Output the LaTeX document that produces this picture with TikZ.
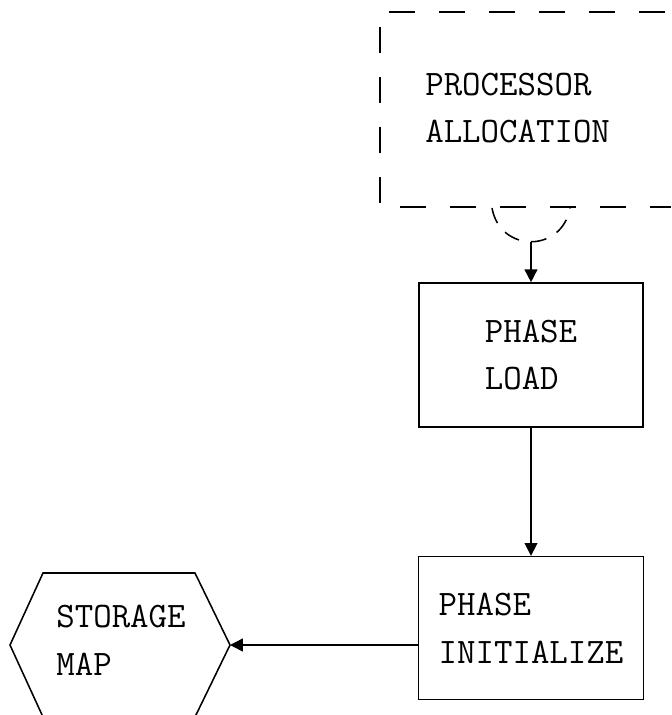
\documentclass[tikz,border=0pt]{standalone}
\usetikzlibrary{arrows.meta, positioning}

\begin{document}
\begin{tikzpicture}[
    x=0.025cm, y=-0.025cm,
    every node/.style={font=\ttfamily\fontsize{25.5}{34}\selectfont, align=left},
    blk/.style={rectangle, draw, line width=1.1pt, inner sep=0pt,
                minimum width=5.6cm, minimum height=3.6cm},
    arr/.style={-{Triangle[length=0.32cm, width=0.32cm]}, line width=1.1pt},
    frm/.style={line width=1.1pt, dash pattern=on 0.65cm off 0.6cm}
]
    \useasboundingbox (0,0) rectangle (671,715);
    % processor allocation (open dashed box)
    \draw[frm] (665,12) -- (380,12) -- (380,207) -- (671,207);
    \node[inner sep=0pt, anchor=west] (alloc) at (425,108) {PROCESSOR\\ALLOCATION};
    \draw[frm, dash pattern=on 0.4cm off 0.3cm] (492,208) .. controls (500,253) and (562,253) .. (570,208);
    \coordinate (join) at (531,242);
    \node[blk] (load) at (531,355) {PHASE\\LOAD};
    \node[blk, below=3.2cm of load, minimum width=5.625cm, minimum height=3.575cm] (init) {PHASE\\INITIALIZE};
    % storage map hexagon
    \node[inner sep=0pt] (map) at (121,640) {STORAGE\\MAP};
    \draw[line width=1.1pt] (43,573) -- (195,573) -- (230,645) coordinate (mapR)
        -- (195,717) -- (43,717) -- (10,645) -- cycle;
    \draw[arr] (join) -- (load.north);
    \draw[arr] (load) -- (init);
    \draw[arr] (init.west |- mapR) -- (mapR);
\end{tikzpicture}
\end{document}
